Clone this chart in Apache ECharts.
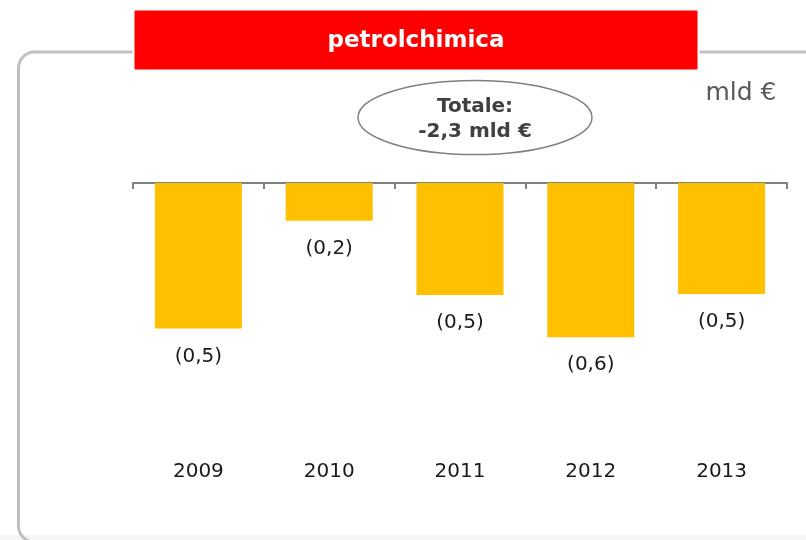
<!DOCTYPE html>
<html>
<head>
<meta charset="utf-8">
<script src="https://cdn.jsdelivr.net/npm/echarts@6/dist/echarts.min.js"></script>
<style>html,body{margin:0;padding:0;background:#fff}#c{width:806px;height:540px}</style>
</head>
<body>
<div id="c"></div>
<script>
const years = ['2009', '2010', '2011', '2012', '2013'];
const values = [-0.560, -0.145, -0.431, -0.593, -0.427];
const valueLabels = ['(0,5)', '(0,2)', '(0,5)', '(0,6)', '(0,5)'];
const titleText = 'petrolchimica';
const unitText = 'mld €';
const totalLines = ['Totale:', '-2,3 mld €'];

const chart = echarts.init(document.getElementById('c'), null, {renderer: 'canvas'});
const font = 'DejaVu Sans, Verdana, sans-serif';
chart.setOption({
  animation: false,
  backgroundColor: '#ffffff',
  grid: {left: 133, right: 19, top: 183, bottom: 97},
  xAxis: [
    {type: 'category', data: years, position: 'top',
     axisLine: {show: true, lineStyle: {color: '#808080', width: 2}},
     axisTick: {show: true, inside: true, length: 6, lineStyle: {color: '#808080', width: 2}},
     axisLabel: {show: false}, splitLine: {show: false}},
    {type: 'category', data: years, position: 'bottom',
     axisLine: {show: false}, axisTick: {show: false}, splitLine: {show: false},
     axisLabel: {show: true, margin: 19, fontFamily: font, fontSize: 20, color: '#1a1a1a'}}
  ],
  yAxis: {type: 'value', min: -1, max: 0, show: false, splitLine: {show: false}},
  graphic: [
    {type: 'rect', z: 1, shape: {x: 0, y: 535, width: 806, height: 5}, style: {fill: '#f6f6f6'}},
    {type: 'rect', z: 2, shape: {x: 18.5, y: 52, width: 830, height: 490, r: 16},
     style: {fill: 'none', stroke: '#c0c0c0', lineWidth: 3}},
    {type: 'rect', z: 3, shape: {x: 133.5, y: 9.5, width: 565, height: 61},
     style: {fill: '#ff0000', stroke: '#ffffff', lineWidth: 2}},
    {type: 'text', z: 4, x: 416, y: 41,
     style: {text: titleText, fill: '#ffffff', font: 'bold 23px ' + font, textAlign: 'center', textVerticalAlign: 'middle'}},
    {type: 'text', z: 4, x: 741, y: 93,
     style: {text: unitText, fill: '#595959', font: '25px ' + font, textAlign: 'center', textVerticalAlign: 'middle'}},
    {type: 'ellipse', z: 4, shape: {cx: 475, cy: 117.5, rx: 117, ry: 37},
     style: {fill: '#ffffff', stroke: '#7f7f7f', lineWidth: 1.5}},
    {type: 'text', z: 5, x: 475, y: 107,
     style: {text: totalLines[0], fill: '#404040', font: 'bold 20px ' + font, textAlign: 'center', textVerticalAlign: 'middle'}},
    {type: 'text', z: 5, x: 475, y: 132,
     style: {text: totalLines[1], fill: '#404040', font: 'bold 20px ' + font, textAlign: 'center', textVerticalAlign: 'middle'}}
  ],
  series: [{
    type: 'bar', xAxisIndex: 0, data: values, barWidth: 87,
    itemStyle: {color: '#ffc000'},
    label: {show: true, position: 'bottom', distance: 18, fontFamily: font, fontSize: 20, color: '#1a1a1a',
      formatter: p => valueLabels[p.dataIndex]}
  }]
});
</script>
</body>
</html>
